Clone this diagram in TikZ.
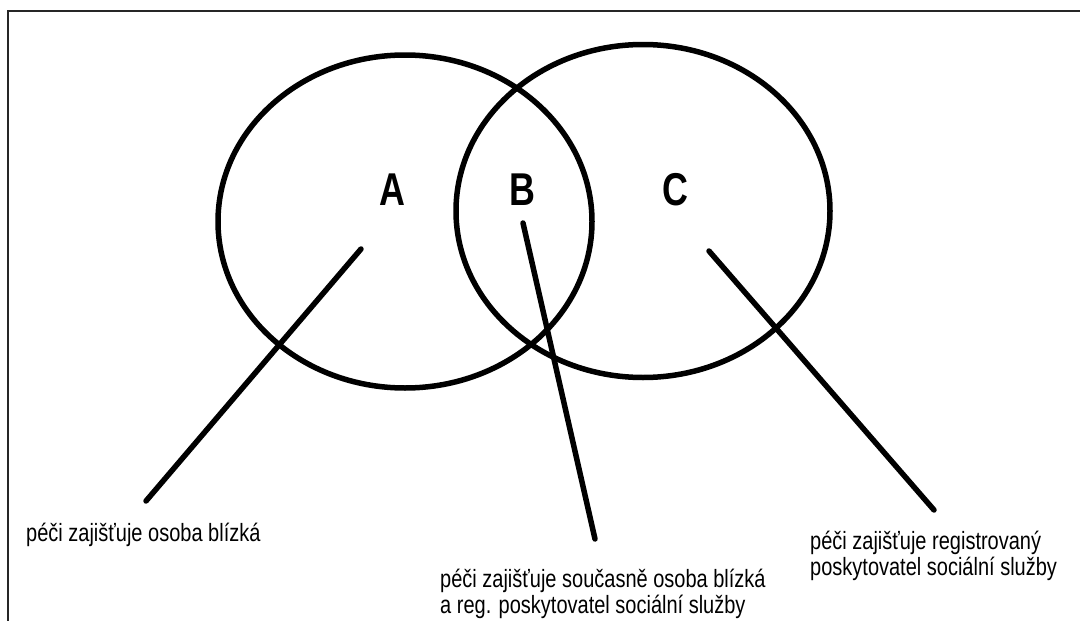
\documentclass[tikz,border=0pt]{standalone}
\usepackage{fontspec}
\setmainfont{Liberation Sans}[FakeStretch=0.8]
\newfontfamily\letfont{Liberation Sans}[FakeStretch=0.78]
\begin{document}
\begin{tikzpicture}[x=1pt,y=-1pt,
  venn/.style={draw=black,line width=5.5pt},
  conn/.style={draw=black,line width=5.5pt,line cap=round},
  letter/.style={inner sep=0pt,font=\letfont\bfseries\fontsize{46}{50}\selectfont},
  label/.style={inner sep=0pt,anchor=base west,align=left,font=\fontsize{25}{26}\selectfont},
  frame/.style={draw=black!85,line width=2pt}]
\useasboundingbox (0,0) rectangle (1080,621);
\fill[white] (0,0) rectangle (1080,621);
\draw[frame] (7.5,625) -- (7.5,11) -- (1085,11);
\draw[venn] (405,221.5) ellipse [x radius=187, y radius=166.5];
\draw[venn] (643,211) ellipse [x radius=187, y radius=166.5];
\node[letter] (A) at (392,190) {A};
\node[letter] (B) at (522,190) {B};
\node[letter] (C) at (675,190) {C};
\coordinate (a1) at (361,249);
\coordinate (b1) at (523,223);
\coordinate (c1) at (709,251);
\node[label] (ta) at (26,541) {péči zajišťuje osoba blízká};
\node[label] (tb) at (440,613) {péči zajišťuje současně osoba blízká\\a reg. poskytovatel sociální služby};
\node[label] (tc) at (810,575) {péči zajišťuje registrovaný\\poskytovatel sociální služby};
\coordinate (a2) at (146,501);
\coordinate (b2) at (595,539);
\coordinate (c2) at (934,510);
\draw[conn] (a1) -- (a2);
\draw[conn] (b1) -- (b2);
\draw[conn] (c1) -- (c2);
\end{tikzpicture}
\end{document}
